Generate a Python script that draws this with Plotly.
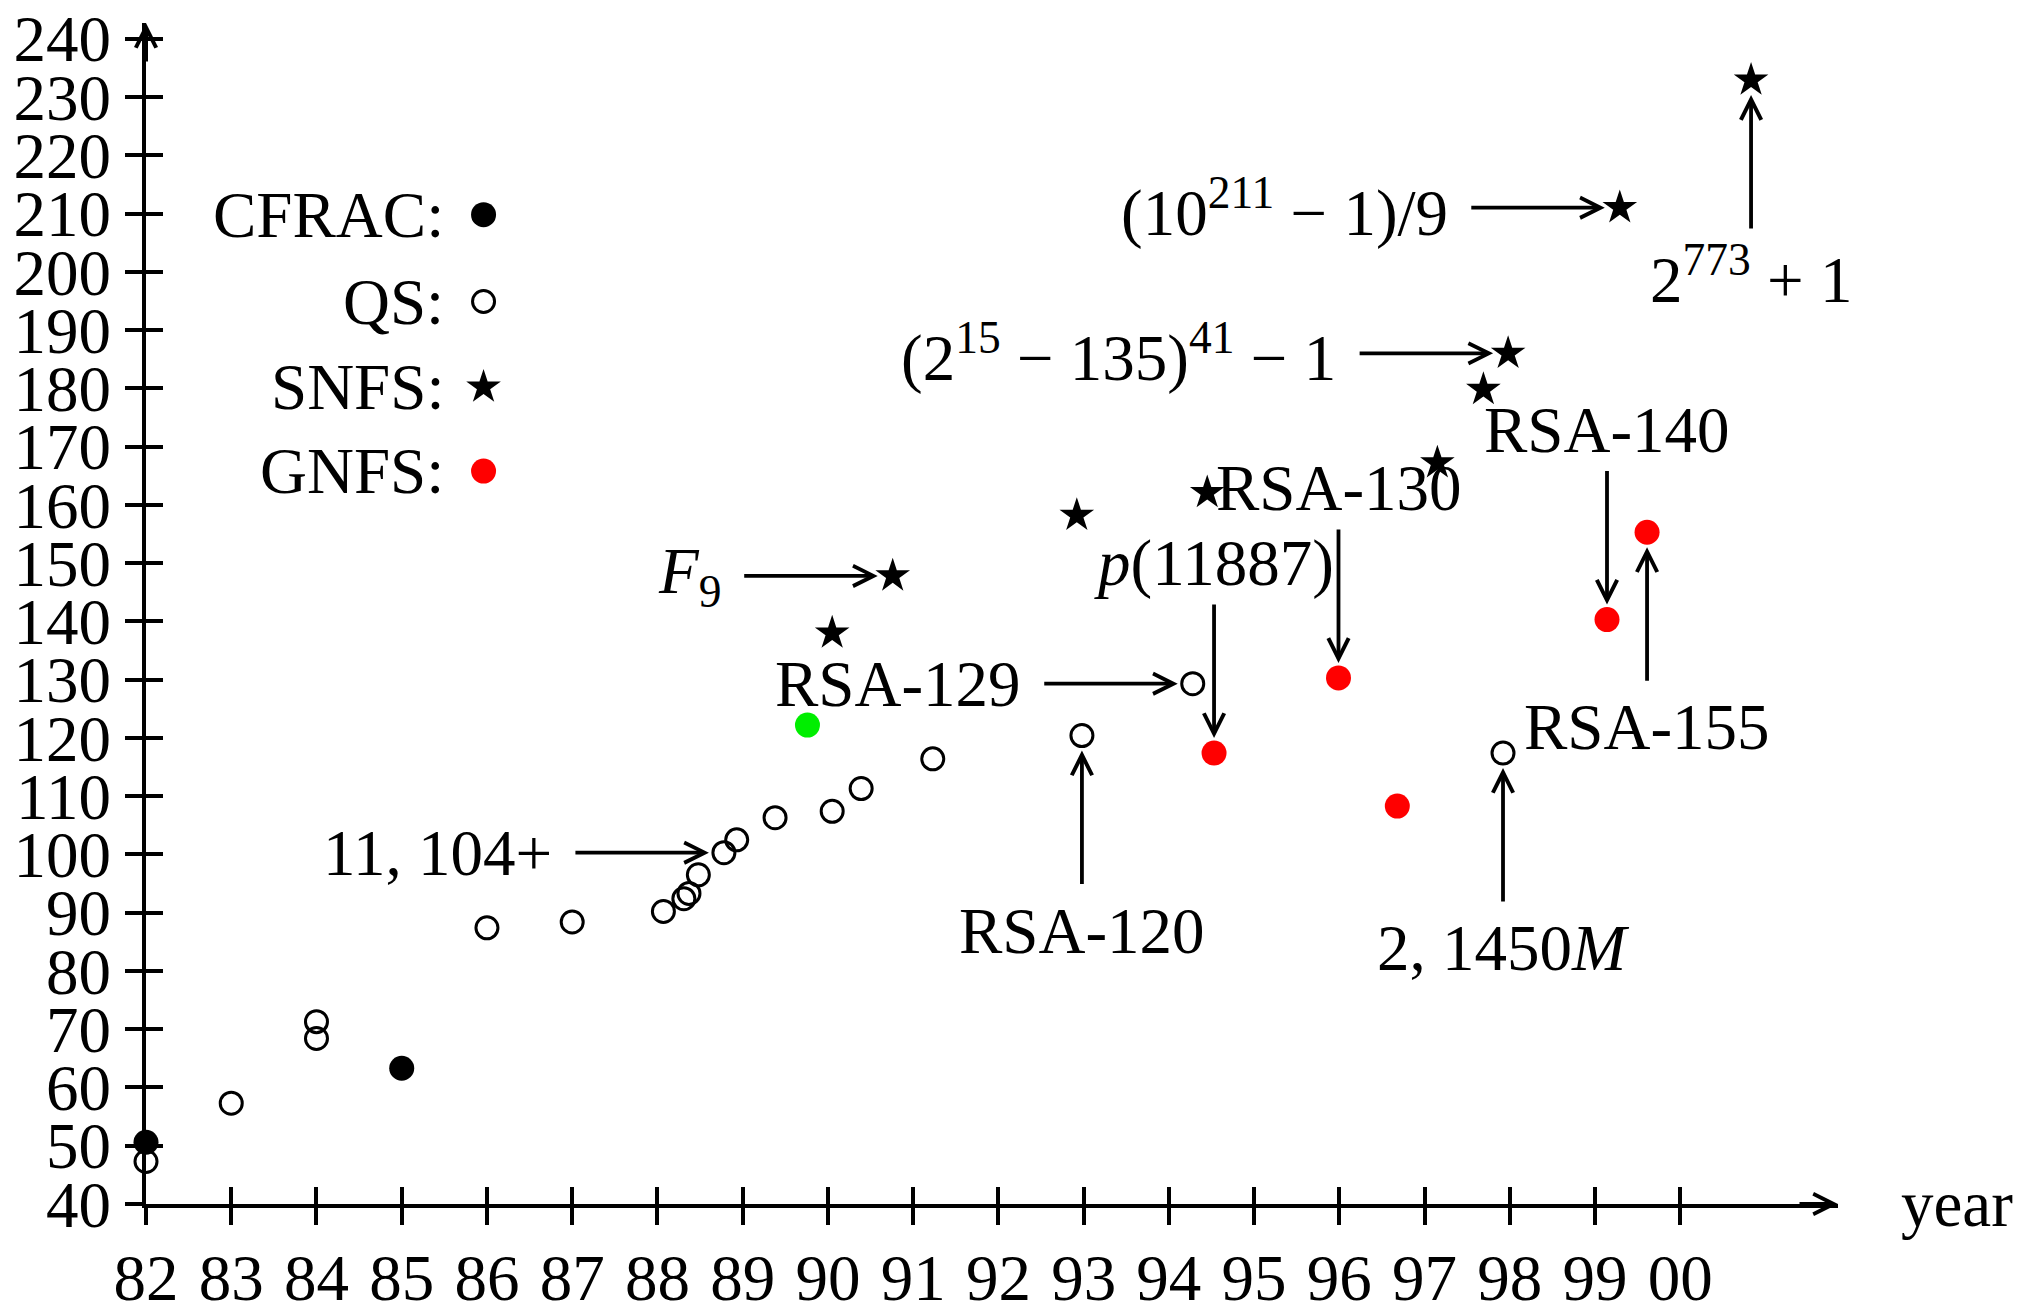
import plotly.graph_objects as go

# ---------------- data ----------------
# QS (open circles)
qs_year = [82.0, 83.0, 84.0, 84.0, 86.0, 87.0, 88.07, 88.31, 88.37, 88.48,
           88.78, 88.93, 89.38, 90.05, 90.39, 91.23, 92.98, 94.28, 97.92]
qs_digits = [47.3, 57.3, 71.3, 68.4, 87.4, 88.4, 90.2, 92.4, 93.3, 96.5,
             100.3, 102.5, 106.3, 107.4, 111.3, 116.4, 120.4, 129.3, 117.4]
# CFRAC (black dots)
cfrac_year = [82.0, 85.0]
cfrac_digits = [50.6, 63.3]
# SNFS (stars)
snfs_year = [90.05, 90.76, 92.92, 94.45, 97.15, 97.69, 97.98, 99.29, 100.83]
snfs_digits = [138.0, 147.8, 158.2, 162.1, 167.2, 179.8, 186.0, 211.0, 232.9]
# GNFS (red dots)
gnfs_year = [94.53, 95.99, 96.68, 99.14, 99.61]
gnfs_digits = [117.4, 130.3, 108.3, 140.3, 155.3]
# unlabeled green dot
other_year = [89.76]
other_digits = [122.2]

year_ticks = list(range(82, 101))
year_labels = ["82", "83", "84", "85", "86", "87", "88", "89", "90", "91",
               "92", "93", "94", "95", "96", "97", "98", "99", "00"]
digit_ticks = list(range(40, 241, 10))
digit_labels = [str(v) for v in digit_ticks]

legend_names = ["CFRAC:", "QS:", "SNFS:", "GNFS:"]

# labelled records: (label, series, index, side)
callouts = [
    ("11, 104+", "qs", 10, "left"),
    ("RSA-129", "qs", 17, "left"),
    ("<i>F</i><sub>9</sub>", "snfs", 1, "left"),
    ("<i>p</i>(11887)", "gnfs", 0, "above"),
    ("RSA-130", "gnfs", 1, "above"),
    ("RSA-140", "gnfs", 3, "above"),
    ("RSA-155", "gnfs", 4, "below"),
    ("RSA-120", "qs", 16, "below"),
    ("2, 1450<i>M</i>", "qs", 18, "below"),
    ("(2<sup>15</sup> \u2212 135)<sup>41</sup> \u2212 1", "snfs", 6, "left"),
    ("(10<sup>211</sup> \u2212 1)/9", "snfs", 7, "left"),
    ("2<sup>773</sup> + 1", "snfs", 8, "below"),
]

# ---------------- styling ----------------
FONT = "Liberation Serif"
FS = 65
X_RANGE = [82, 101.85]
Y_RANGE = [40, 242.7]
LW = 4

series = {
    "qs": (qs_year, qs_digits),
    "cfrac": (cfrac_year, cfrac_digits),
    "snfs": (snfs_year, snfs_digits),
    "gnfs": (gnfs_year, gnfs_digits),
}

styles = {
    "qs": dict(symbol="circle-open", size=22, color="black", line=dict(width=3, color="black")),
    "cfrac": dict(symbol="circle", size=25, color="black"),
    "snfs": dict(symbol="star", size=26, color="black"),
    "gnfs": dict(symbol="circle", size=25, color="#ff0000"),
}

fig = go.Figure()

for key in ["qs", "cfrac", "gnfs", "snfs"]:
    xs, ys = series[key]
    fig.add_trace(go.Scatter(x=xs, y=ys, mode="markers", marker=styles[key],
                             cliponaxis=False, showlegend=False, hoverinfo="skip"))

fig.add_trace(go.Scatter(x=other_year, y=other_digits, mode="markers",
                         marker=dict(symbol="circle", size=25, color="#00ee00"),
                         cliponaxis=False, showlegend=False, hoverinfo="skip"))

# manual legend (text left of the symbol)
LEG_X = 85.96
LEG_Y = [209.8, 194.9, 180.2, 165.8]
for name, key, ly in zip(legend_names, ["cfrac", "qs", "snfs", "gnfs"], LEG_Y):
    fig.add_trace(go.Scatter(x=[LEG_X], y=[ly], mode="markers", marker=styles[key],
                             cliponaxis=False, showlegend=False, hoverinfo="skip"))
    fig.add_annotation(x=LEG_X, y=ly, xref="x", yref="y", text=name, showarrow=False,
                       xanchor="right", yanchor="middle", xshift=-38,
                       font=dict(family=FONT, size=FS, color="black"))

# dummy trace for overlay tick axes
fig.add_trace(go.Scatter(x=[None], y=[None], xaxis="x2", yaxis="y2",
                         showlegend=False, hoverinfo="skip"))

# callouts
ARROW = 150
GAP = 15
for text, key, idx, side in callouts:
    px, py = series[key][0][idx], series[key][1][idx]
    if side == "left":
        ax, ay = -ARROW, 0
        tk = dict(xanchor="right", yanchor="middle", xshift=-170, yshift=0)
    elif side == "above":
        ax, ay = 0, -ARROW
        tk = dict(xanchor="center", yanchor="middle", xshift=0, yshift=190)
    else:
        ax, ay = 0, ARROW
        tk = dict(xanchor="center", yanchor="middle", xshift=0, yshift=-195)
    fig.add_annotation(x=px, y=py, xref="x", yref="y", text="", showarrow=True,
                       ax=ax, ay=ay, axref="pixel", ayref="pixel",
                       arrowhead=5, arrowsize=1.05, arrowwidth=3.8, arrowcolor="black",
                       standoff=GAP, startstandoff=0)
    fig.add_annotation(x=px, y=py, xref="x", yref="y", text=text, showarrow=False,
                       font=dict(family=FONT, size=FS, color="black"), **tk)

# axis arrowheads
fig.add_annotation(x=X_RANGE[1], y=Y_RANGE[0], xref="x", yref="y", text="",
                   showarrow=True, ax=-40, ay=0, arrowhead=5, arrowsize=1.0,
                   arrowwidth=LW, arrowcolor="black", standoff=0)
fig.add_annotation(x=X_RANGE[0], y=Y_RANGE[1], xref="x", yref="y", text="",
                   showarrow=True, ax=0, ay=40, arrowhead=5, arrowsize=1.0,
                   arrowwidth=LW, arrowcolor="black", standoff=0)
fig.add_annotation(x=1.036, y=Y_RANGE[0], xref="paper", yref="y", text="year",
                   showarrow=False, xanchor="left", yanchor="middle",
                   font=dict(family=FONT, size=FS, color="black"))

common = dict(showgrid=False, zeroline=False, ticklen=17, tickwidth=LW, tickcolor="black",
              automargin=False)
fig.update_layout(
    width=2030, height=1316, autosize=False,
    margin=dict(l=146, r=192, t=23, b=112, autoexpand=False),
    paper_bgcolor="white", plot_bgcolor="white",
    font=dict(family=FONT, size=FS, color="black"),
    xaxis=dict(range=X_RANGE, tickvals=year_ticks, ticktext=year_labels, ticks="outside",
               showline=True, linewidth=LW, linecolor="black", ticklabelstandoff=-3,
               tickfont=dict(family=FONT, size=FS, color="black"), **common),
    yaxis=dict(range=Y_RANGE, tickvals=digit_ticks, ticktext=digit_labels, ticks="outside",
               showline=True, linewidth=LW, linecolor="black", ticklabelstandoff=1,
               tickfont=dict(family=FONT, size=FS, color="black"), **common),
    xaxis2=dict(range=X_RANGE, tickvals=year_ticks, ticks="inside", overlaying="x",
                anchor="y2", showticklabels=False, showline=False, **common),
    yaxis2=dict(range=Y_RANGE, tickvals=digit_ticks, ticks="inside", overlaying="y",
                anchor="x2", showticklabels=False, showline=False, **common),
)

fig.write_html("out.html")
